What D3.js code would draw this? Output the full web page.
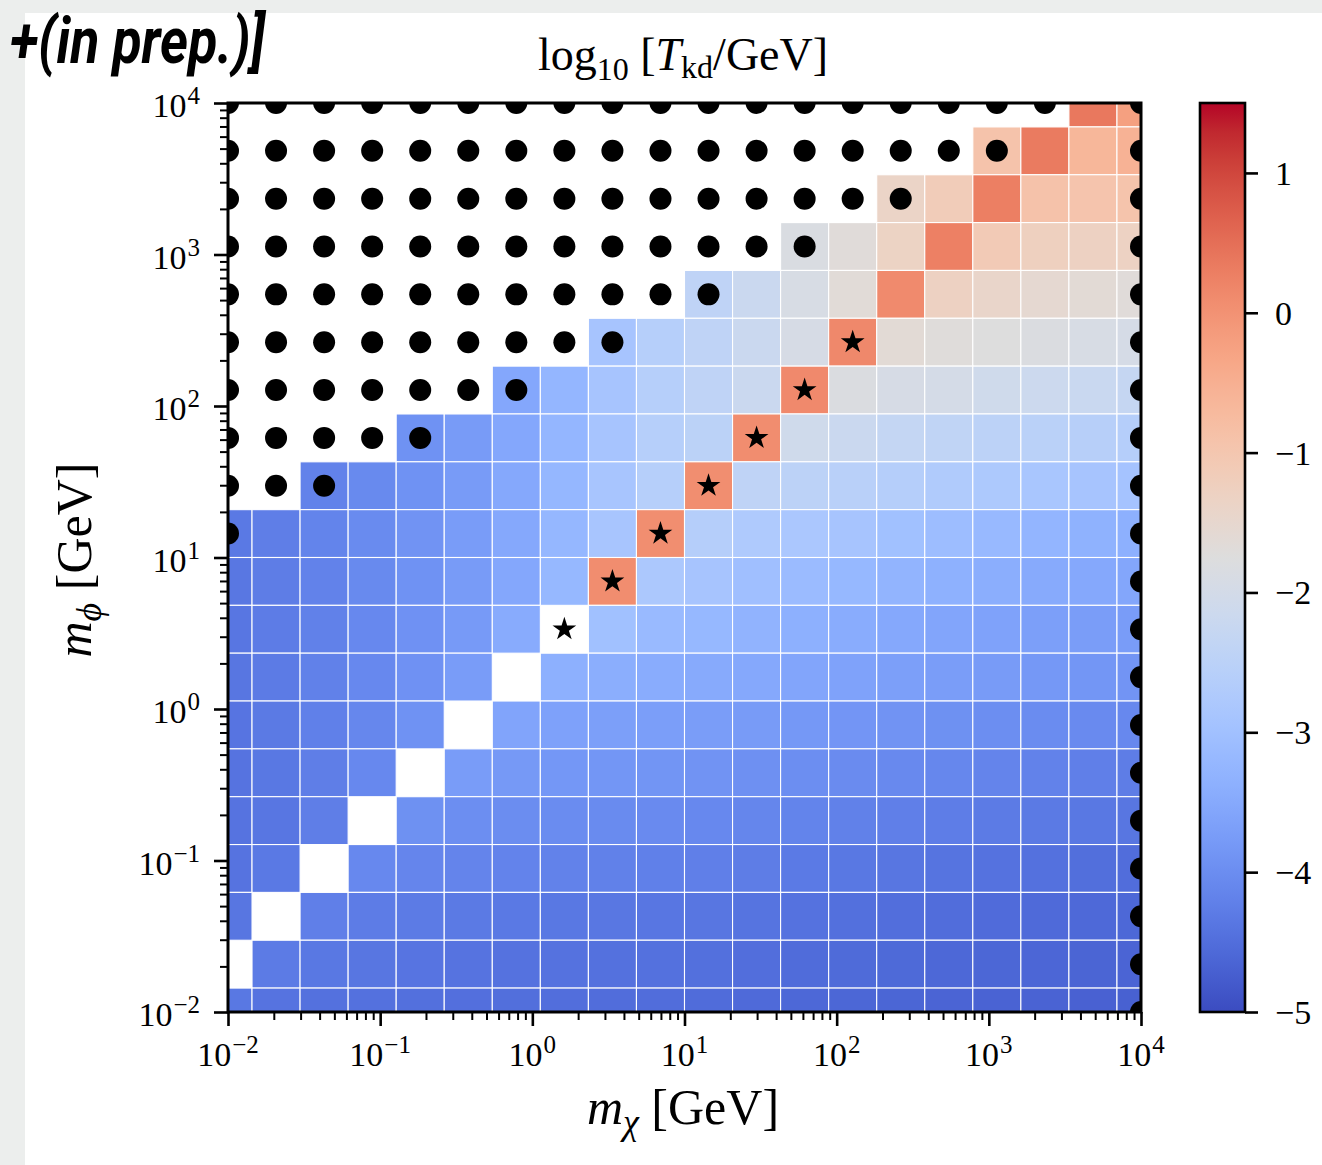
<!DOCTYPE html>
<html>
<head>
<meta charset="utf-8">
<script src="https://cdn.jsdelivr.net/npm/d3@7"></script>
<style>
  body { margin: 0; background: #ffffff; }
  svg { display: block; }
</style>
</head>
<body>
<script>
// grid of masses (GeV), 20 log-spaced points from 1e-2 to 1e4
const mChi = [0.01, 0.020691, 0.042813, 0.088587, 0.183298, 0.379269, 0.78476, 1.623777, 3.359818, 6.951928,
              14.3845, 29.76351, 61.58482, 127.4275, 263.6651, 545.5595, 1128.838, 2335.721, 4832.93, 10000];
const mPhi = [0.01, 0.020691, 0.042813, 0.088587, 0.183298, 0.379269, 0.78476, 1.623777, 3.359818, 6.951928,
              14.3845, 29.76351, 61.58482, 127.4275, 263.6651, 545.5595, 1128.838, 2335.721, 4832.93, 10000];

// log10(T_kd/GeV), rows from top (mPhi = 1e4) down to bottom (mPhi = 1e-2), columns follow mChi
const N = null;
const logTkd = [
  [N,N,N,N,N,N,N,N,N,N,N,N,N,N,N,N,N,N, 0.38,-0.22],
  [N,N,N,N,N,N,N,N,N,N,N,N,N,N,N,N,-0.92, 0.33,-0.65,-0.55],
  [N,N,N,N,N,N,N,N,N,N,N,N,N,N,-1.38,-1.15, 0.28,-0.90,-0.95,-0.93],
  [N,N,N,N,N,N,N,N,N,N,N,N,-1.85,-1.68,-1.33, 0.26,-1.10,-1.25,-1.30,-1.32],
  [N,N,N,N,N,N,N,N,N,N,-2.43,-2.20,-1.90,-1.65, 0.12,-1.30,-1.42,-1.55,-1.62,-1.68],
  [N,N,N,N,N,N,N,N,-2.90,-2.60,-2.43,-2.20,-1.92, 0.15,-1.62,-1.70,-1.76,-1.82,-1.90,-1.95],
  [N,N,N,N,N,N,-3.54,-3.24,-2.90,-2.60,-2.43,-2.20, 0.13,-1.82,-1.92,-1.97,-2.08,-2.16,-2.22,-2.30],
  [N,N,N,N,-3.92,-3.77,-3.54,-3.24,-2.90,-2.60,-2.50, 0.08,-2.08,-2.20,-2.32,-2.40,-2.48,-2.53,-2.58,-2.62],
  [N,N,-4.18,-4.06,-3.92,-3.77,-3.52,-3.22,-2.88,-2.60, 0.06,-2.43,-2.48,-2.55,-2.62,-2.72,-2.78,-2.85,-2.90,-2.93],
  [-4.33,-4.25,-4.16,-4.04,-3.90,-3.75,-3.52,-3.22,-2.88, 0.06,-2.62,-2.75,-2.82,-2.90,-3.00,-3.08,-3.18,-3.27,-3.33,-3.37],
  [-4.36,-4.27,-4.18,-4.06,-3.92,-3.77,-3.54,-3.20, 0.08,-2.80,-2.90,-3.03,-3.12,-3.20,-3.28,-3.35,-3.42,-3.48,-3.52,-3.56],
  [-4.37,-4.28,-4.20,-4.08,-3.93,-3.78,-3.47, N,-3.00,-3.15,-3.20,-3.30,-3.38,-3.45,-3.52,-3.58,-3.63,-3.68,-3.72,-3.75],
  [-4.38,-4.30,-4.20,-4.08,-3.93,-3.75, N,-3.37,-3.42,-3.45,-3.48,-3.53,-3.58,-3.63,-3.68,-3.73,-3.77,-3.81,-3.85,-3.88],
  [-4.40,-4.32,-4.22,-4.10,-3.92, N,-3.60,-3.65,-3.68,-3.70,-3.72,-3.77,-3.82,-3.86,-3.90,-3.94,-3.98,-4.02,-4.05,-4.08],
  [-4.42,-4.35,-4.25,-4.08, N,-3.75,-3.80,-3.83,-3.85,-3.87,-3.90,-3.95,-3.99,-4.03,-4.07,-4.11,-4.15,-4.19,-4.23,-4.27],
  [-4.42,-4.37,-4.25, N,-3.94,-3.98,-4.00,-4.02,-4.04,-4.05,-4.08,-4.12,-4.16,-4.20,-4.23,-4.26,-4.29,-4.32,-4.35,-4.38],
  [-4.42,-4.33, N,-4.08,-4.13,-4.15,-4.17,-4.19,-4.21,-4.22,-4.23,-4.27,-4.31,-4.35,-4.38,-4.41,-4.44,-4.46,-4.49,-4.51],
  [-4.38, N,-4.23,-4.28,-4.30,-4.32,-4.33,-4.35,-4.36,-4.37,-4.38,-4.41,-4.44,-4.47,-4.50,-4.52,-4.54,-4.56,-4.58,-4.60],
  [ N,-4.30,-4.35,-4.38,-4.40,-4.42,-4.43,-4.44,-4.45,-4.46,-4.47,-4.50,-4.53,-4.55,-4.57,-4.59,-4.61,-4.62,-4.64,-4.65],
  [-4.35,-4.42,-4.45,-4.46,-4.47,-4.48,-4.49,-4.50,-4.51,-4.52,-4.53,-4.56,-4.59,-4.61,-4.63,-4.65,-4.66,-4.67,-4.69,-4.70]
];

// black dots: same row order as logTkd (1 = dot)
const dotRows = [
  "11111111111111111101",
  "11111111111111111001",
  "11111111111111100001",
  "11111111111110000001",
  "11111111111000000001",
  "11111111100000000001",
  "11111110000000000001",
  "11111000000000000001",
  "11100000000000000001",
  "10000000000000000001",
  "00000000000000000001",
  "00000000000000000001",
  "00000000000000000001",
  "00000000000000000001",
  "00000000000000000001",
  "00000000000000000001",
  "00000000000000000001",
  "00000000000000000001",
  "00000000000000000001",
  "00000000000000000001"
];

// star markers: [mChi index, mPhi index]
const starCells = [[7,8],[8,9],[9,10],[10,11],[11,12],[12,13],[13,14]];

const decades = [1e-2, 1e-1, 1e0, 1e1, 1e2, 1e3, 1e4];
const cbTicks = [-5, -4, -3, -2, -1, 0, 1];

// matplotlib coolwarm (33 samples)
const coolwarm = ["#3b4cc0","#445acc","#4d68d7","#5775e1","#6282ea","#6c8ef1","#779af7","#82a5fb",
  "#8db0fe","#98b9ff","#a3c2ff","#aec9fd","#b8d0f9","#c2d5f4","#ccd9ee","#d5dbe6","#dddddd",
  "#e5d8d1","#ecd3c5","#f1ccb8","#f5c4ac","#f7bb9f","#f7b194","#f7a686","#f49a7b","#f18d6f",
  "#ec7f63","#e57058","#de604d","#d55043","#cb3e38","#c0282f","#b40426"];

const W = 1322, H = 1165;
const margin = {left: 228, right: 1141, top: 103, bottom: 1012};
const vmin = -5, vmax = 1.5;
const serif = "'Liberation Serif', 'DejaVu Serif', serif";

const svg = d3.select("body").append("svg").attr("width", W).attr("height", H);

// page background like the slide it was cut from
svg.append("rect").attr("width", W).attr("height", H).attr("fill", "#eceeed");
svg.append("rect").attr("x", 25).attr("y", 13).attr("width", W - 25).attr("height", H - 13).attr("fill", "#ffffff");

const x = d3.scaleLog().domain([1e-2, 1e4]).range([margin.left, margin.right]);
const y = d3.scaleLog().domain([1e-2, 1e4]).range([margin.bottom, margin.top]);
const color = d3.scaleLinear()
  .domain(coolwarm.map((c, k) => vmin + (vmax - vmin) * k / (coolwarm.length - 1)))
  .range(coolwarm)
  .interpolate(d3.interpolateRgb)
  .clamp(true);

function edges(arr) {
  const e = [];
  for (let k = 1; k < arr.length; k++) e[k] = Math.sqrt(arr[k - 1] * arr[k]);
  e[0] = arr[0] * arr[0] / e[1];
  e[arr.length] = arr[arr.length - 1] * arr[arr.length - 1] / e[arr.length - 1];
  return e;
}
const ex = edges(mChi), ey = edges(mPhi);

svg.append("clipPath").attr("id", "plotClip").append("rect")
  .attr("x", margin.left).attr("y", margin.top)
  .attr("width", margin.right - margin.left).attr("height", margin.bottom - margin.top);

const cells = [];
logTkd.forEach((row, r) => {
  const j = mPhi.length - 1 - r;
  row.forEach((v, i) => { if (v !== null) cells.push({i, j, v}); });
});

const plot = svg.append("g").attr("clip-path", "url(#plotClip)");

plot.selectAll("rect.cell")
  .data(cells)
  .join("rect")
  .attr("class", "cell")
  .attr("x", d => x(ex[d.i]))
  .attr("y", d => y(ey[d.j + 1]))
  .attr("width", d => x(ex[d.i + 1]) - x(ex[d.i]))
  .attr("height", d => y(ey[d.j]) - y(ey[d.j + 1]))
  .attr("fill", d => color(d.v))
  .attr("stroke", "#ffffff")
  .attr("stroke-width", 1.1);

const dots = [];
dotRows.forEach((s, r) => {
  const j = mPhi.length - 1 - r;
  s.split("").forEach((c, i) => { if (c === "1") dots.push({i, j}); });
});

plot.selectAll("circle.dot")
  .data(dots)
  .join("circle")
  .attr("class", "dot")
  .attr("cx", d => x(mChi[d.i]))
  .attr("cy", d => y(mPhi[d.j]))
  .attr("r", 11)
  .attr("fill", "#000000");

plot.selectAll("path.star")
  .data(starCells)
  .join("path")
  .attr("class", "star")
  .attr("transform", d => `translate(${x(mChi[d[0]])},${y(mPhi[d[1]])})`)
  .attr("d", d3.symbol().type(d3.symbolStar).size(175))
  .attr("fill", "#000000");

// axes
const minor = [];
decades.slice(0, -1).forEach(d => { for (let m = 2; m <= 9; m++) minor.push(m * d); });

function styleTicks(g, w) {
  g.select(".domain").remove();
  g.selectAll("line").attr("stroke", "#000").attr("stroke-width", w);
}

svg.append("g").attr("transform", `translate(0,${margin.bottom})`)
  .call(d3.axisBottom(x).tickValues(minor).tickSize(8).tickFormat(""))
  .call(g => styleTicks(g, 2));
svg.append("g").attr("transform", `translate(0,${margin.bottom})`)
  .call(d3.axisBottom(x).tickValues(decades).tickSize(14).tickFormat(""))
  .call(g => styleTicks(g, 2.6));
svg.append("g").attr("transform", `translate(${margin.left},0)`)
  .call(d3.axisLeft(y).tickValues(minor).tickSize(8).tickFormat(""))
  .call(g => styleTicks(g, 2));
svg.append("g").attr("transform", `translate(${margin.left},0)`)
  .call(d3.axisLeft(y).tickValues(decades).tickSize(14).tickFormat(""))
  .call(g => styleTicks(g, 2.6));

const expo = d => { const e = Math.round(Math.log10(d)); return (e < 0 ? "\u2212" : "") + Math.abs(e); };

function powerLabel(sel) {
  sel.append("tspan").text("10");
  sel.append("tspan").attr("dx", 1).attr("dy", -13).style("font-size", "25px").text(d => expo(d));
}

svg.append("g").selectAll("text")
  .data(decades)
  .join("text")
  .attr("x", d => x(d))
  .attr("y", margin.bottom + 54)
  .attr("text-anchor", "middle")
  .style("font-family", serif).style("font-size", "34px")
  .call(powerLabel);

svg.append("g").selectAll("text")
  .data(decades)
  .join("text")
  .attr("x", margin.left - 28)
  .attr("y", d => y(d) + 14)
  .attr("text-anchor", "end")
  .style("font-family", serif).style("font-size", "34px")
  .call(powerLabel);

// frame
svg.append("rect")
  .attr("x", margin.left).attr("y", margin.top)
  .attr("width", margin.right - margin.left).attr("height", margin.bottom - margin.top)
  .attr("fill", "none").attr("stroke", "#000").attr("stroke-width", 3);

// axis labels and title
const xl = svg.append("text").attr("x", 683).attr("y", 1124).attr("text-anchor", "middle")
  .style("font-family", serif).style("font-size", "50px");
xl.append("tspan").style("font-style", "italic").text("m");
xl.append("tspan").attr("dy", 10).style("font-size", "36px").style("font-style", "italic").text("\u03c7");
xl.append("tspan").attr("dy", -10).text(" [GeV]");

const yl = svg.append("text").attr("transform", "translate(91,560) rotate(-90)").attr("text-anchor", "middle")
  .style("font-family", serif).style("font-size", "50px");
yl.append("tspan").style("font-style", "italic").text("m");
yl.append("tspan").attr("dy", 10).style("font-size", "36px").style("font-style", "italic").text("\u03d5");
yl.append("tspan").attr("dy", -10).text(" [GeV]");

const tl = svg.append("text").attr("x", 683).attr("y", 70).attr("text-anchor", "middle")
  .style("font-family", serif).style("font-size", "46px");
tl.append("tspan").text("log");
tl.append("tspan").attr("dy", 10).style("font-size", "32px").text("10");
tl.append("tspan").attr("dy", -10).text(" [");
tl.append("tspan").style("font-style", "italic").text("T");
tl.append("tspan").attr("dy", 8).style("font-size", "32px").text("kd");
tl.append("tspan").attr("dy", -8).text("/GeV]");

// colorbar
const cb = {x0: 1200, x1: 1245};
const cbScale = d3.scaleLinear().domain([vmin, vmax]).range([margin.bottom, margin.top]);
const grad = svg.append("defs").append("linearGradient").attr("id", "cbGrad")
  .attr("x1", 0).attr("y1", 1).attr("x2", 0).attr("y2", 0);
grad.selectAll("stop").data(coolwarm).join("stop")
  .attr("offset", (c, k) => k / (coolwarm.length - 1))
  .attr("stop-color", c => c);

svg.append("rect")
  .attr("x", cb.x0).attr("y", margin.top)
  .attr("width", cb.x1 - cb.x0).attr("height", margin.bottom - margin.top)
  .attr("fill", "url(#cbGrad)").attr("stroke", "#000").attr("stroke-width", 2.6);

svg.append("g").attr("transform", `translate(${cb.x1},0)`)
  .call(d3.axisRight(cbScale).tickValues(cbTicks).tickSize(13).tickFormat(""))
  .call(g => styleTicks(g, 2.6));

svg.append("g").selectAll("text")
  .data(cbTicks)
  .join("text")
  .attr("x", 1275)
  .attr("y", d => cbScale(d) + 12)
  .style("font-family", serif).style("font-size", "34px")
  .text(d => (d < 0 ? "\u2212" : "") + Math.abs(d));

// fragment of the slide heading that was cropped
const ht = svg.append("text")
  .style("font-family", "Roboto, 'Open Sans', sans-serif")
  .style("font-weight", "bold").style("font-style", "italic").style("font-size", "64px")
  .text("+(in prep.)]");
const hs = 255 / ht.node().getComputedTextLength();
ht.attr("transform", `translate(10,63) scale(${hs},1)`);
</script>
</body>
</html>
